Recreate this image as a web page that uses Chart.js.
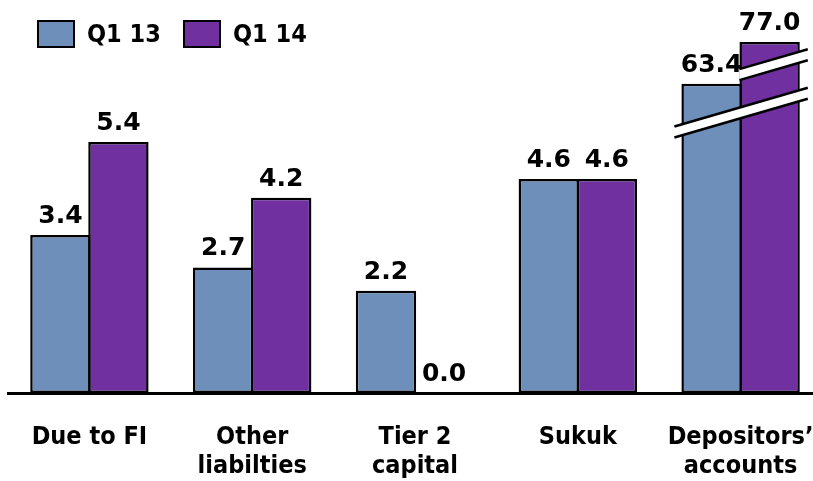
<!DOCTYPE html>
<html>
<head>
<meta charset="utf-8">
<script src="https://cdn.jsdelivr.net/npm/chart.js@4.4.0/dist/chart.umd.min.js"></script>
<style>
  html, body { margin: 0; padding: 0; background: #fff; overflow: hidden; width: 813px; height: 481px; }
  #wrap { position: relative; width: 813px; height: 481px; overflow: hidden; }
  #c { display: block; }
  #legend { position: absolute; left: 37px; top: 20px; display: flex; align-items: center;
            font-family: 'DejaVu Sans Condensed', 'DejaVu Sans', sans-serif; font-weight: bold;
            font-size: 25px; line-height: 28px; color: #000; }
  .sw { width: 38px; height: 28px; box-sizing: border-box; border: 2px solid #000; margin-right: 12px; }
  .item { display: flex; align-items: center; margin-right: 22px; }
</style>
</head>
<body>
<div id="wrap">
  <canvas id="c" width="830" height="481"></canvas>
  <div id="legend"></div>
</div>
<script>
// ---- data ----
const categories = [['Due to FI'], ['Other', 'liabilties'], ['Tier 2', 'capital'], ['Sukuk'], ['Depositors’', 'accounts']];
const seriesNames = ['Q1 13', 'Q1 14'];
const q113 = [3.4, 2.7, 2.2, 4.6, 63.4];
const q114 = [5.4, 4.2, 0.0, 4.6, 77.0];
const colors = ['#6E8FBA', '#7030A0'];

// broken-axis settings (values above the break are compressed)
const BREAK_AT = 5.8;        // displayed value where the compressed zone starts
const BREAK_RESUME = 50.5;   // real value corresponding to BREAK_AT
const BREAK_RATIO = 0.066;   // compression ratio above the break
const BREAK_INDEX = 4;
const STRIPES = [6.03, 7.06]; // displayed values where break stripes cross

function toDisplay(v) {
  return v > 10 ? BREAK_AT + (v - BREAK_RESUME) * BREAK_RATIO : v;
}

// legend (HTML text)
const lg = document.getElementById('legend');
seriesNames.forEach((n, i) => {
  const it = document.createElement('div'); it.className = 'item';
  const sw = document.createElement('div'); sw.className = 'sw'; sw.style.background = colors[i];
  const t = document.createElement('span'); t.textContent = n;
  it.appendChild(sw); it.appendChild(t); lg.appendChild(it);
});

const breakPlugin = {
  id: 'breaks',
  afterDatasetsDraw(chart) {
    const ctx = chart.ctx, ys = chart.scales.y;
    const a = chart.getDatasetMeta(0).data[BREAK_INDEX];
    const b = chart.getDatasetMeta(1).data[BREAK_INDEX];
    const SLOPE = 0.29, GAP = 11;
    function stripe(x0, x1, val) {
      const xc = (x0 + x1) / 2, yc = ys.getPixelForValue(val);
      const yAt = (x, off) => yc - SLOPE * (x - xc) + off;
      ctx.save();
      ctx.beginPath();
      ctx.moveTo(x0, yAt(x0, -GAP / 2)); ctx.lineTo(x1, yAt(x1, -GAP / 2));
      ctx.lineTo(x1, yAt(x1, GAP / 2)); ctx.lineTo(x0, yAt(x0, GAP / 2));
      ctx.closePath(); ctx.fillStyle = '#fff'; ctx.fill();
      ctx.lineWidth = 2.5; ctx.strokeStyle = '#000';
      ctx.beginPath();
      ctx.moveTo(x0, yAt(x0, -GAP / 2)); ctx.lineTo(x1, yAt(x1, -GAP / 2));
      ctx.moveTo(x0, yAt(x0, GAP / 2)); ctx.lineTo(x1, yAt(x1, GAP / 2));
      ctx.stroke();
      ctx.restore();
    }
    stripe(a.x - a.width / 2 - 7, b.x + b.width / 2 + 8, STRIPES[0]);
    stripe(b.x - b.width / 2, b.x + b.width / 2 + 8, STRIPES[1]);

    // value labels
    const series = [q113, q114];
    ctx.save();
    ctx.font = "bold 25px 'DejaVu Sans'";
    ctx.fillStyle = '#000';
    ctx.textAlign = 'center';
    ctx.textBaseline = 'alphabetic';
    series.forEach((arr, di) => {
      chart.getDatasetMeta(di).data.forEach((el, i) => {
        ctx.fillText(arr[i].toFixed(1), el.x, el.y - 12);
      });
    });
    ctx.restore();
  }
};

new Chart(document.getElementById('c'), {
  type: 'bar',
  data: {
    labels: categories,
    datasets: [
      { label: seriesNames[0], data: q113.map(toDisplay), backgroundColor: colors[0], borderColor: '#000', borderWidth: 2.5, borderSkipped: false },
      { label: seriesNames[1], data: q114.map(toDisplay), backgroundColor: colors[1], borderColor: '#000', borderWidth: 2.5, borderSkipped: false }
    ]
  },
  options: {
    responsive: false,
    animation: false,
    categoryPercentage: 0.713,
    barPercentage: 1.04,
    layout: { padding: { left: 8, right: 8, top: 0, bottom: 0 } },
    plugins: { legend: { display: false }, tooltip: { enabled: false } },
    scales: {
      y: { display: false, min: 0, max: 8.452 },
      x: {
        grid: { display: false, drawTicks: true, tickLength: 30 },
        border: { display: true, color: '#000', width: 3 },
        ticks: {
          color: '#000',
          padding: 0,
          maxRotation: 0,
          autoSkip: false,
          font: { family: "'DejaVu Sans Condensed'", weight: 'bold', size: 25, lineHeight: 1.15 }
        },
        afterFit(s) { s.height = 88; }
      }
    }
  },
  plugins: [breakPlugin]
});
</script>
</body>
</html>
